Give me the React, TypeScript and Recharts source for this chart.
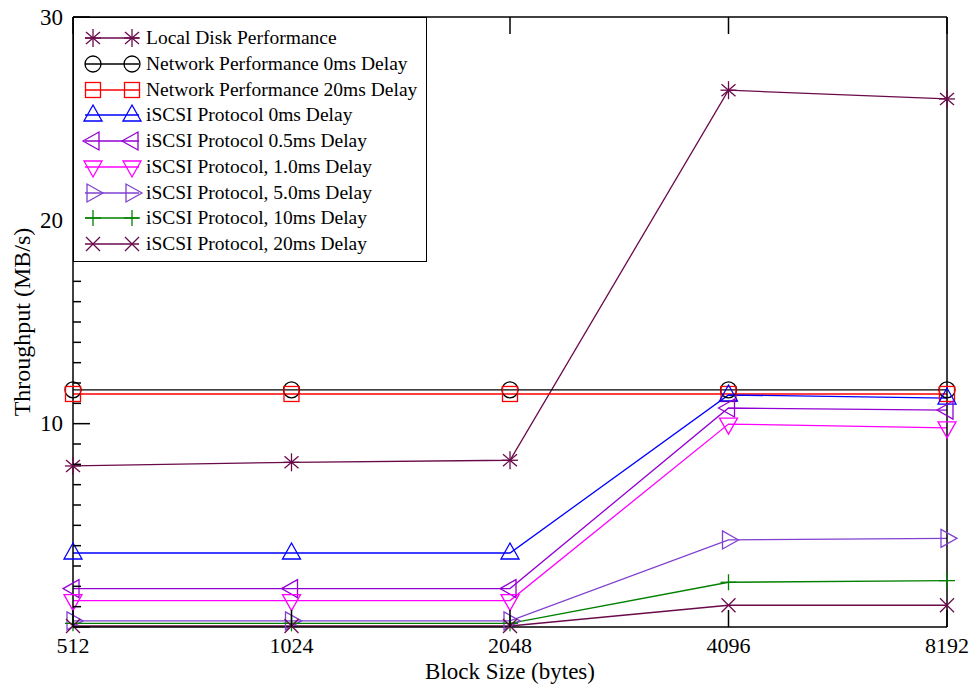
import React from "react";
import { LineChart, Line, XAxis, YAxis } from "recharts";

const FONT = '"Liberation Serif", "Times New Roman", serif';

const blockSizes = ["512", "1024", "2048", "4096", "8192"];
const localDisk = [7.92, 8.1, 8.2, 26.4, 25.97];
const network0 = [11.66, 11.66, 11.66, 11.66, 11.66];
const network20 = [11.46, 11.46, 11.46, 11.46, 11.46];
const iscsi0 = [3.64, 3.64, 3.64, 11.41, 11.26];
const iscsi05 = [1.89, 1.89, 1.89, 10.77, 10.67];
const iscsi10 = [1.3, 1.3, 1.3, 9.98, 9.79];
const iscsi50 = [0.3, 0.3, 0.3, 4.28, 4.36];
const iscsi100 = [0.18, 0.18, 0.18, 2.2, 2.28];
const iscsi200 = [0.05, 0.05, 0.05, 1.07, 1.07];
const yTicks = Array.from({ length: 31 }, (_, i) => i);
const yLabels = [10, 20, 30];

type Shape = "star" | "circle" | "square" | "up" | "left" | "down" | "right" | "plus" | "cross";

const series: { key: string; name: string; color: string; shape: Shape; values: number[] }[] = [
  { key: "local", name: "Local Disk Performance", color: "#6a0a4a", shape: "star", values: localDisk },
  { key: "net0", name: "Network Performance 0ms Delay", color: "#000000", shape: "circle", values: network0 },
  { key: "net20", name: "Network Performance 20ms Delay", color: "#ff0000", shape: "square", values: network20 },
  { key: "i0", name: "iSCSI Protocol 0ms Delay", color: "#0000ff", shape: "up", values: iscsi0 },
  { key: "i05", name: "iSCSI Protocol 0.5ms Delay", color: "#9400d3", shape: "left", values: iscsi05 },
  { key: "i10", name: "iSCSI Protocol, 1.0ms Delay", color: "#ff00ff", shape: "down", values: iscsi10 },
  { key: "i50", name: "iSCSI Protocol, 5.0ms Delay", color: "#8040d0", shape: "right", values: iscsi50 },
  { key: "i100", name: "iSCSI Protocol, 10ms Delay", color: "#008000", shape: "plus", values: iscsi100 },
  { key: "i200", name: "iSCSI Protocol, 20ms Delay", color: "#6a0a4a", shape: "cross", values: iscsi200 },
];

const data = blockSizes.map((size, i) => {
  const row: Record<string, string | number> = { size };
  series.forEach((s) => (row[s.key] = s.values[i]));
  return row;
});

function marker(shape: Shape, color: string, cx: number, cy: number, key?: React.Key) {
  const p = { stroke: color, strokeWidth: 1.3, fill: "none" };
  switch (shape) {
    case "star":
      return (
        <g key={key} {...p}>
          <line x1={cx} y1={cy - 9} x2={cx} y2={cy + 9} />
          <line x1={cx - 8} y1={cy} x2={cx + 8} y2={cy} />
          <line x1={cx - 7} y1={cy - 6} x2={cx + 7} y2={cy + 6} />
          <line x1={cx - 7} y1={cy + 6} x2={cx + 7} y2={cy - 6} />
        </g>
      );
    case "circle":
      return <circle key={key} cx={cx} cy={cy} r={8} {...p} />;
    case "square":
      return <rect key={key} x={cx - 7.5} y={cy - 7.5} width={15} height={15} {...p} />;
    case "up":
      return <polygon key={key} points={`${cx},${cy - 10} ${cx + 9},${cy + 6} ${cx - 9},${cy + 6}`} {...p} />;
    case "down":
      return <polygon key={key} points={`${cx},${cy + 10} ${cx + 9},${cy - 6} ${cx - 9},${cy - 6}`} {...p} />;
    case "left":
      return <polygon key={key} points={`${cx - 10},${cy} ${cx + 6},${cy - 9} ${cx + 6},${cy + 9}`} {...p} />;
    case "right":
      return <polygon key={key} points={`${cx + 10},${cy} ${cx - 6},${cy - 9} ${cx - 6},${cy + 9}`} {...p} />;
    case "plus":
      return (
        <g key={key} {...p}>
          <line x1={cx} y1={cy - 8} x2={cx} y2={cy + 8} />
          <line x1={cx - 8} y1={cy} x2={cx + 8} y2={cy} />
        </g>
      );
    default:
      return (
        <g key={key} {...p}>
          <line x1={cx - 7} y1={cy - 7} x2={cx + 7} y2={cy + 7} />
          <line x1={cx - 7} y1={cy + 7} x2={cx + 7} y2={cy - 7} />
        </g>
      );
  }
}

const makeDot = (shape: Shape, color: string) => (props: any) => {
  const { cx, cy, index } = props;
  if (cx == null || cy == null) return <g key={index} />;
  return marker(shape, color, cx, cy, index);
};

const LeftTick = (props: any) => {
  const { x, y, payload } = props;
  const v = payload.value as number;
  const major = v % 10 === 0;
  return (
    <g>
      <line x1={x} x2={x + (major ? 17 : 8)} y1={y} y2={y} stroke="#000" strokeWidth={1.5} />
      {yLabels.includes(v) && (
        <text x={x - 10} y={y} textAnchor="end" dominantBaseline="central" fontSize={23} fontFamily={FONT} fill="#000">
          {v}
        </text>
      )}
    </g>
  );
};

const RightTick = (props: any) => {
  const { x, y, payload } = props;
  const major = (payload.value as number) % 10 === 0;
  return <line x1={x} x2={x - (major ? 17 : 8)} y1={y} y2={y} stroke="#000" strokeWidth={1.5} />;
};

const BottomTick = (props: any) => {
  const { x, y, payload } = props;
  return (
    <g>
      <line x1={x} x2={x} y1={y} y2={y - 17} stroke="#000" strokeWidth={1.5} />
      <text x={x} y={y + 18} textAnchor="middle" dominantBaseline="central" fontSize={22} fontFamily={FONT} fill="#000">
        {payload.value}
      </text>
    </g>
  );
};

const TopTick = (props: any) => {
  const { x, y } = props;
  return <line x1={x} x2={x} y1={y} y2={y + 17} stroke="#000" strokeWidth={1.5} />;
};

const LegendBox = () => (
  <div
    style={{
      position: "absolute",
      left: 73,
      top: 17,
      width: 354,
      height: 245,
      border: "1px solid #000",
      background: "#fff",
      paddingTop: 7,
      boxSizing: "border-box",
      fontFamily: FONT,
      fontSize: 19.5,
      color: "#000",
    }}
  >
    {series.map((s) => (
      <div key={s.key} style={{ display: "flex", alignItems: "center", height: 25.8 }}>
        <svg width={72} height={26} style={{ flex: "none" }}>
          <line x1={11} x2={65} y1={13} y2={13} stroke={s.color} strokeWidth={1.3} />
          {marker(s.shape, s.color, 19, 13)}
          {marker(s.shape, s.color, 58, 13)}
        </svg>
        <span style={{ whiteSpace: "nowrap", lineHeight: "26px" }}>{s.name}</span>
      </div>
    ))}
  </div>
);

export default function App() {
  return (
    <div style={{ position: "absolute", left: 0, top: 0, width: 974, height: 685, background: "#fff" }}>
      <LineChart width={974} height={685} data={data} margin={{ top: 0, right: 0, bottom: 0, left: 0 }}>
        <XAxis
          dataKey="size"
          xAxisId={0}
          height={58}
          tickSize={0}
          tickMargin={0}
          tick={<BottomTick />}
          tickLine={false}
          axisLine={{ stroke: "#000", strokeWidth: 1.5 }}
          interval={0}
          label={{ value: "Block Size (bytes)", position: "insideBottom", offset: 6, fontSize: 23, fontFamily: FONT, fill: "#000" }}
        />
        <XAxis
          dataKey="size"
          xAxisId="top"
          orientation="top"
          height={17}
          tickSize={0}
          tickMargin={0}
          tick={<TopTick />}
          tickLine={false}
          axisLine={{ stroke: "#000", strokeWidth: 1.5 }}
          interval={0}
        />
        <YAxis
          yAxisId={0}
          width={73}
          domain={[0, 30]}
          ticks={yTicks}
          interval={0}
          tickSize={0}
          tickMargin={0}
          tick={<LeftTick />}
          tickLine={false}
          axisLine={{ stroke: "#000", strokeWidth: 1.5 }}
          label={{
            content: ({ viewBox }: any) => (
              <text
                x={viewBox.x + 22}
                y={viewBox.y + viewBox.height / 2}
                transform={`rotate(-90 ${viewBox.x + 22} ${viewBox.y + viewBox.height / 2})`}
                textAnchor="middle"
                dominantBaseline="central"
                fontSize={24}
                fontFamily={FONT}
                fill="#000"
              >
                Throughput (MB/s)
              </text>
            ),
          }}
        />
        <YAxis
          yAxisId="right"
          orientation="right"
          width={27}
          domain={[0, 30]}
          ticks={yTicks}
          interval={0}
          tickSize={0}
          tickMargin={0}
          tick={<RightTick />}
          tickLine={false}
          axisLine={{ stroke: "#000", strokeWidth: 1.5 }}
        />
        {series.map((s) => (
          <Line
            key={s.key}
            dataKey={s.key}
            name={s.name}
            type="linear"
            stroke={s.color}
            strokeWidth={1.3}
            dot={makeDot(s.shape, s.color)}
            activeDot={false}
            isAnimationActive={false}
          />
        ))}
      </LineChart>
      <LegendBox />
    </div>
  );
}
